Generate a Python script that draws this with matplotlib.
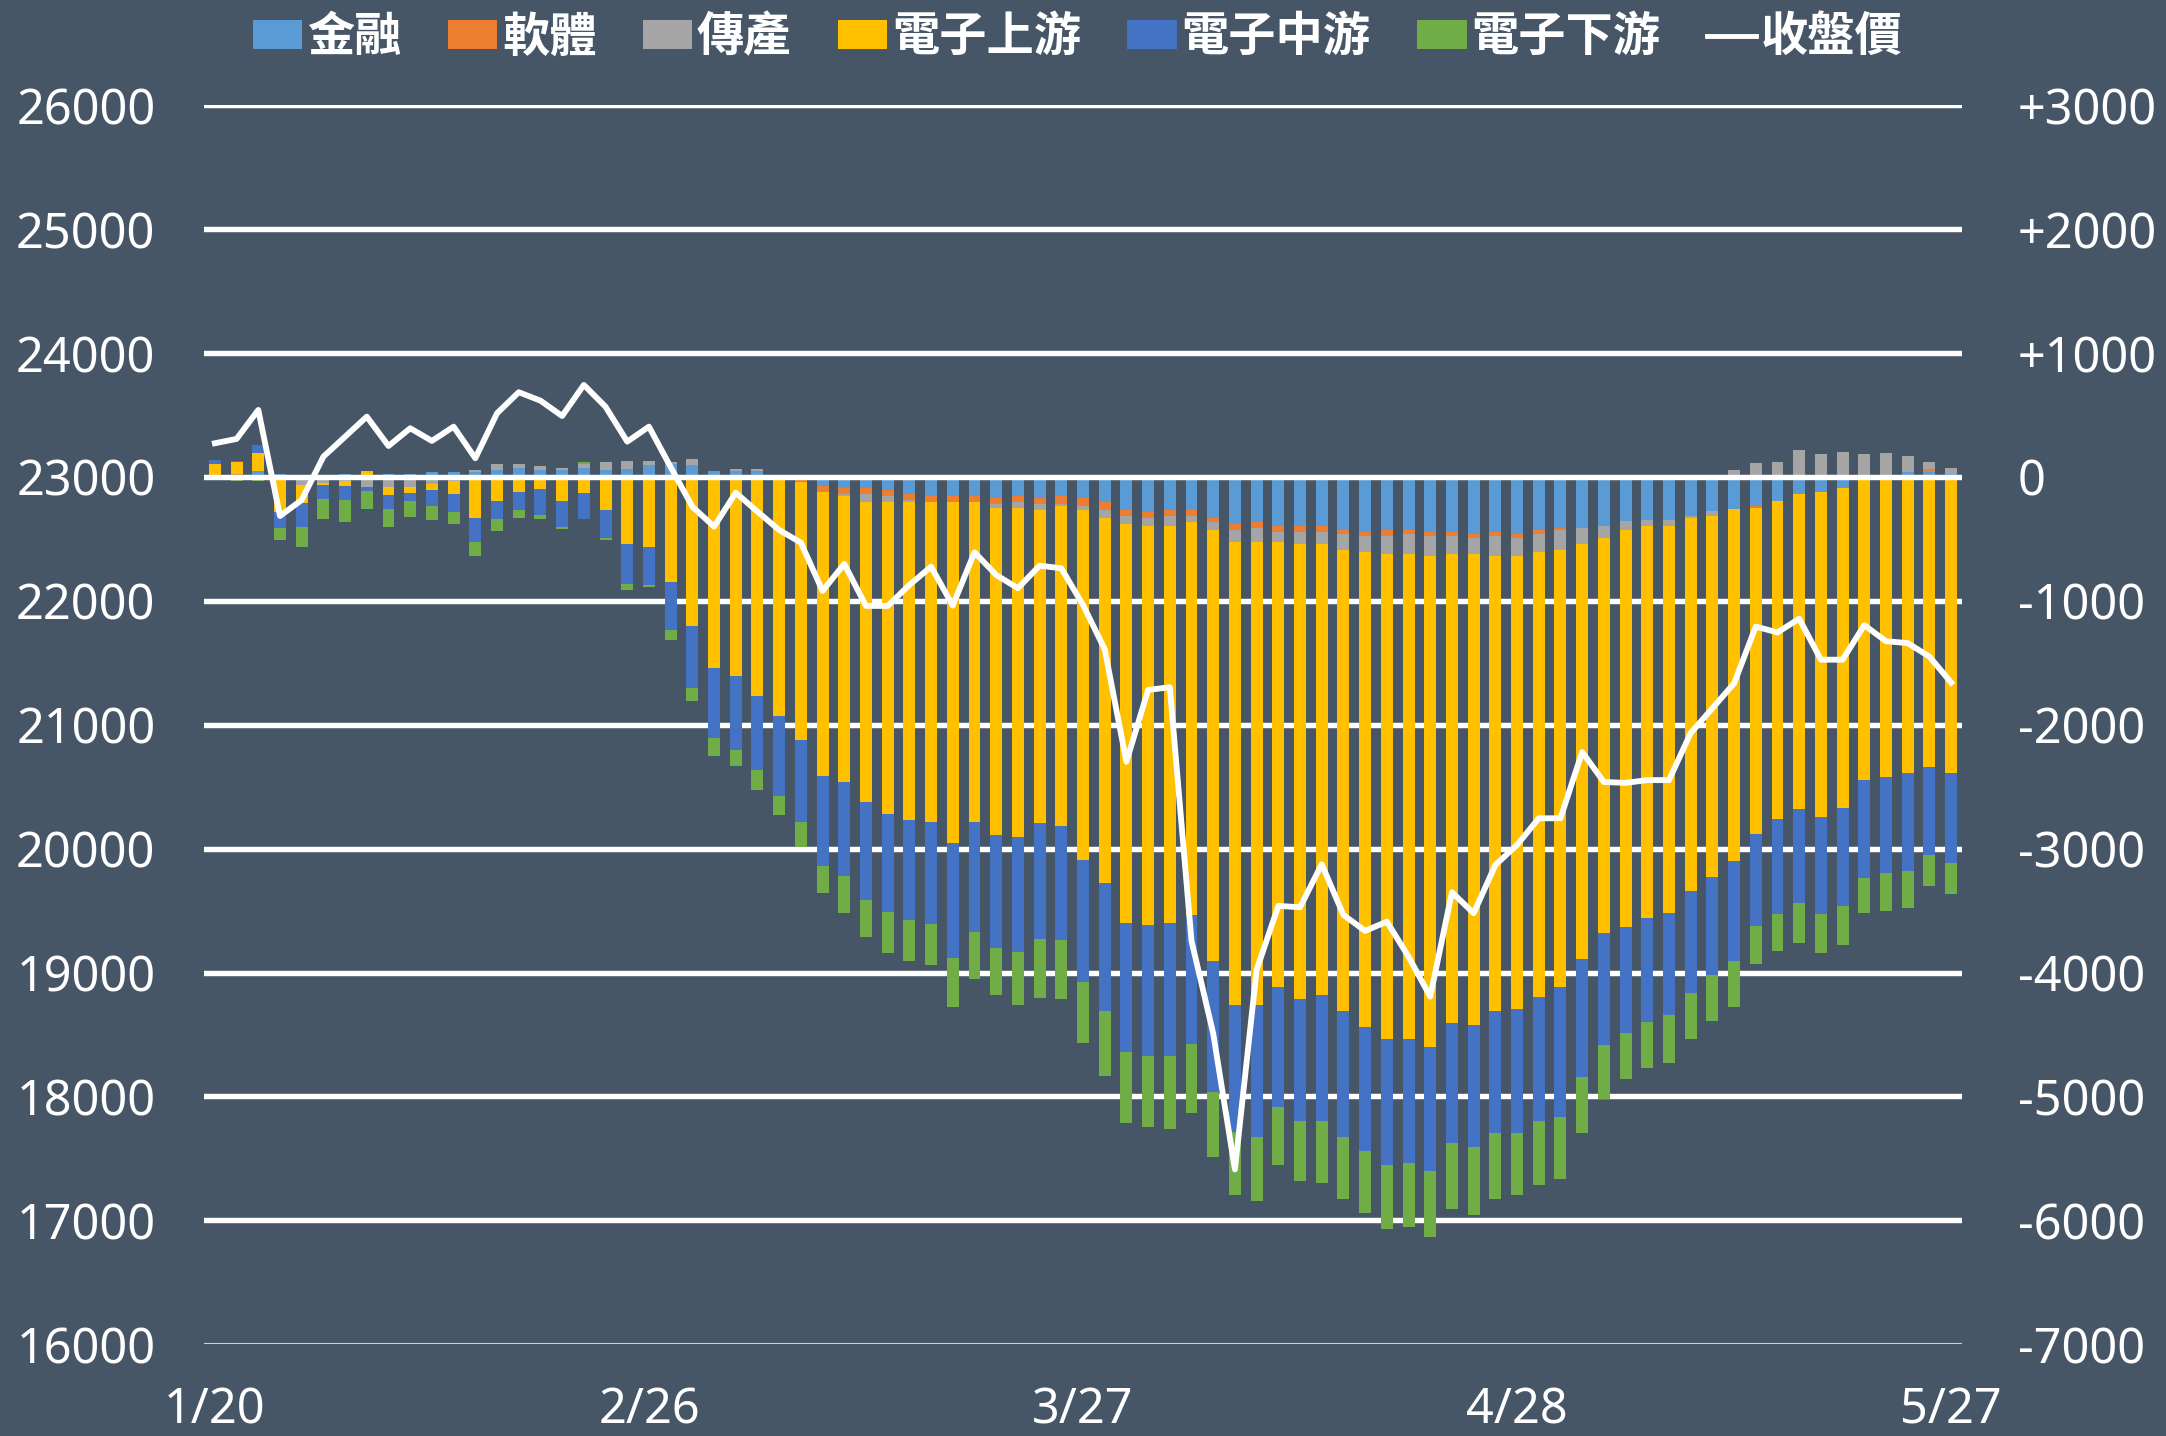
#foreign net position by sector (stacked bars) vs index close price
import numpy as np
import matplotlib
matplotlib.use('Agg')
import matplotlib.pyplot as plt
from matplotlib.patches import Patch
from matplotlib.lines import Line2D
from matplotlib.font_manager import FontProperties

#trading days 1/20 .. 5/27
dates = ['1/20', '1/21', '1/22',
         '2/3', '2/4', '2/5', '2/6', '2/7', '2/10', '2/11', '2/12', '2/13', '2/14',
         '2/17', '2/18', '2/19', '2/20', '2/21', '2/24', '2/25', '2/26', '2/27',
         '3/3', '3/4', '3/5', '3/6', '3/7', '3/10', '3/11', '3/12', '3/13', '3/14',
         '3/17', '3/18', '3/19', '3/20', '3/21', '3/24', '3/25', '3/26', '3/27', '3/28', '3/31',
         '4/1', '4/2', '4/7', '4/8', '4/9', '4/10', '4/11', '4/14', '4/15', '4/16', '4/17', '4/18',
         '4/21', '4/22', '4/23', '4/24', '4/25', '4/28', '4/29', '4/30',
         '5/2', '5/5', '5/6', '5/7', '5/8', '5/9', '5/12', '5/13', '5/14', '5/15', '5/16',
         '5/19', '5/20', '5/21', '5/22', '5/23', '5/26', '5/27']
tick_dates = ['1/20', '2/26', '3/27', '4/28', '5/27']

#close price (left axis)
close = [23272, 23307, 23541, 22685, 22814, 23164, 23325, 23487, 23250, 23393,
         23291, 23406, 23151, 23514, 23684, 23616, 23492, 23743, 23567, 23285,
         23406, 23080, 22760, 22599, 22873, 22720, 22572, 22470, 22080, 22298,
         21959, 21959, 22128, 22276, 21962, 22392, 22209, 22102, 22284, 22263,
         21967, 21610, 20701, 21281, 21303, 19255, 18508, 17411, 19021, 19538,
         19527, 19874, 19465, 19336, 19411, 19128, 18806, 19648, 19479, 19868,
         20030, 20245, 20245, 20780, 20538, 20531, 20553, 20553, 20933, 21133,
         21334, 21792, 21745, 21856, 21525, 21525, 21804, 21674, 21659, 21550,
         21341]

#sector values (right axis)
fin = [8, 8, 45, 20, 5, 8, 20, 10, 20, 20,
       40, 40, 40, 54, 73, 57, 57, 73, 57, 62,
       97, 105, 97, 48, 48, 48, 0, 0, -73, -89,
       -89, -105, -137, -153, -153, -153, -170, -153, -170, -153,
       -170, -202, -269, -285, -269, -269, -334, -382, -366, -398,
       -398, -398, -430, -447, -430, -430, -447, -447, -463, -447,
       -463, -430, -414, -414, -398, -358, -346, -346, -312, -278,
       -260, -235, -198, -136, -121, -93, -22, 0, 43, 43,
       25]
soft = [0, 16, 0, 0, 5, 3, 0, 5, 0, 0,
        0, 0, -10, -10, -10, -10, -8, -8, -8, -10,
        -10, -10, -24, -24, -24, -10, -24, -40, -48, -48,
        -48, -48, -48, -48, -48, -48, -48, -48, -48, -65,
        -65, -65, -48, -48, -48, -48, -32, -48, -48, -48,
        -48, -48, -32, -32, -48, -32, -32, -32, -32, -32,
        -32, -32, -16, 0, 0, 0, 0, 12, 0, 0,
        0, -15, 0, 0, 0, 0, 0, 0, 0, 19,
        0]
trad = [-8, -15, 5, -24, -65, -50, -30, -80, -80, -80,
        -60, -30, 13, 48, 30, 32, 16, 32, 65, 67,
        32, 13, 46, 0, 13, 13, 16, 16, 0, -16,
        -65, -48, -16, 0, 0, 16, -32, -48, -48, -16,
        -32, -65, -65, -65, -81, -48, -65, -97, -113, -81,
        -97, -97, -129, -129, -145, -161, -161, -145, -129, -161,
        -145, -145, -161, -129, -97, -71, -53, -53, -22, -37,
        56, 110, 124, 216, 185, 198, 185, 190, 124, 62,
        49]
up = [97, 95, 140, -255, -145, -16, -43, 32, -65, -48,
      -48, -107, -320, -188, -108, -89, -188, -124, -256, -530,
      -554, -837, -1178, -1517, -1582, -1759, -1905, -2082, -2292, -2306,
      -2421, -2516, -2564, -2580, -2755, -2580, -2643, -2660, -2524, -2580,
      -2822, -2946, -3220, -3220, -3204, -3172, -3479, -3737, -3737, -3592,
      -3672, -3640, -3721, -3834, -3914, -3914, -3963, -3785, -3801, -3672,
      -3656, -3592, -3527, -3349, -3188, -3203, -3157, -3120, -3009, -2916,
      -2836, -2629, -2564, -2548, -2626, -2576, -2422, -2422, -2391, -2345,
      -2391]
mid = [32, 12, 67, -132, -194, -113, -113, -32, -113, -65,
       -130, -145, -194, -145, -145, -210, -210, -210, -231, -323,
       -307, -390, -500, -565, -597, -597, -646, -662, -726, -761,
       -791, -793, -809, -826, -926, -890, -906, -922, -938, -922,
       -985, -1033, -1036, -1052, -1069, -1036, -1052, -1020, -1065, -969,
       -985, -1017, -1017, -1001, -1017, -1001, -1001, -969, -985, -985,
       -1001, -1001, -1049, -952, -904, -853, -842, -826, -826, -788,
       -810, -745, -763, -757, -778, -794, -794, -772, -788, -704,
       -723]
down = [-20, -20, -30, -97, -161, -161, -178, -145, -145, -130,
        -113, -97, -113, -97, -65, -32, -16, 16, -11, -48,
        -16, -81, -110, -145, -129, -161, -156, -204, -220, -301,
        -301, -333, -333, -333, -398, -382, -382, -430, -479, -479,
        -497, -525, -578, -578, -594, -562, -529, -513, -517, -468,
        -484, -500, -500, -500, -517, -517, -533, -533, -549, -533,
        -500, -517, -500, -452, -436, -371, -369, -385, -369, -371,
        -369, -304, -303, -321, -318, -318, -284, -306, -303, -256,
        -253]

names = ['金融', '軟體', '傳產', '電子上游', '電子中游', '電子下游']
colors = ['#5B9BD5', '#ED7D31', '#A5A5A5', '#FFC000', '#4472C4', '#70AD47']
series = [fin, soft, trad, up, mid, down]

bg = '#465667'
plt.rcParams['font.family'] = ['Noto Sans', 'Noto Sans CJK TC', 'DejaVu Sans']

fig = plt.figure(figsize=(21.66, 14.36), dpi=100, facecolor=bg)
ax = fig.add_axes([0.0942, 0.0639, 0.8116, 0.8628])
ax.set_facecolor(bg)
#price line on twin axis so it draws above the bars
ax2 = ax.twinx()

x = np.arange(len(dates))

#excel style stacking: positives up from 0, negatives down from 0
pos_base = np.zeros(len(dates))
neg_base = np.zeros(len(dates))
for vals, c in zip(series, colors):
    v = np.array(vals, dtype=float)
    base = np.where(v >= 0, pos_base, neg_base)
    ax.bar(x, v, bottom=base, width=0.55, color=c, linewidth=0, zorder=2)
    pos_base = pos_base + np.where(v >= 0, v, 0)
    neg_base = neg_base + np.where(v < 0, v, 0)

#gridlines
for g in range(-6000, 3001, 1000):
    ax.axhline(g, color='white', lw=3.9, zorder=3 if g == 0 else 1)
ax.axhline(-7000, color='#D0D0D0', lw=1.5, zorder=1)

ax.set_xlim(-0.5, len(dates) - 0.5)
ax.set_ylim(-7000, 3000)
rt = list(range(-7000, 3001, 1000))
ax.set_yticks(rt)
ax.set_yticklabels([('+%d' % t if t > 0 else '%d' % t) for t in rt])
ax.set_xticks([dates.index(d) for d in tick_dates])
ax.set_xticklabels(tick_dates)
ax.yaxis.tick_right()
ax.tick_params(axis='both', length=0, colors='white', labelsize=35)
ax.tick_params(axis='y', pad=40)
ax.tick_params(axis='x', pad=30)
for s in ax.spines.values():
    s.set_visible(False)

ax2.plot(x, close, color='white', lw=4.2, zorder=5, solid_joinstyle='round')
ax2.set_ylim(16000, 26000)
ax2.set_yticks(range(16000, 26001, 1000))
ax2.yaxis.tick_left()
ax2.tick_params(axis='y', length=0, colors='white', labelsize=35, pad=35)
for s in ax2.spines.values():
    s.set_visible(False)

#legend on top
handles = [Patch(facecolor=c, edgecolor='none') for c in colors]
handles.append(Line2D([0], [0], color='white', lw=3.5))
labels = names + ['收盤價']
fp = FontProperties(family=['Noto Sans CJK TC'], weight='bold', size=34)
leg = fig.legend(handles, labels, loc='center', bbox_to_anchor=(0.4975, 0.974), ncol=7,
                 frameon=False, prop=fp, handlelength=1.05, handleheight=0.55,
                 handletextpad=0.1, columnspacing=0.98, borderaxespad=0)
for t in leg.get_texts():
    t.set_color('white')

plt.savefig('out.png', dpi=100, facecolor=bg)
